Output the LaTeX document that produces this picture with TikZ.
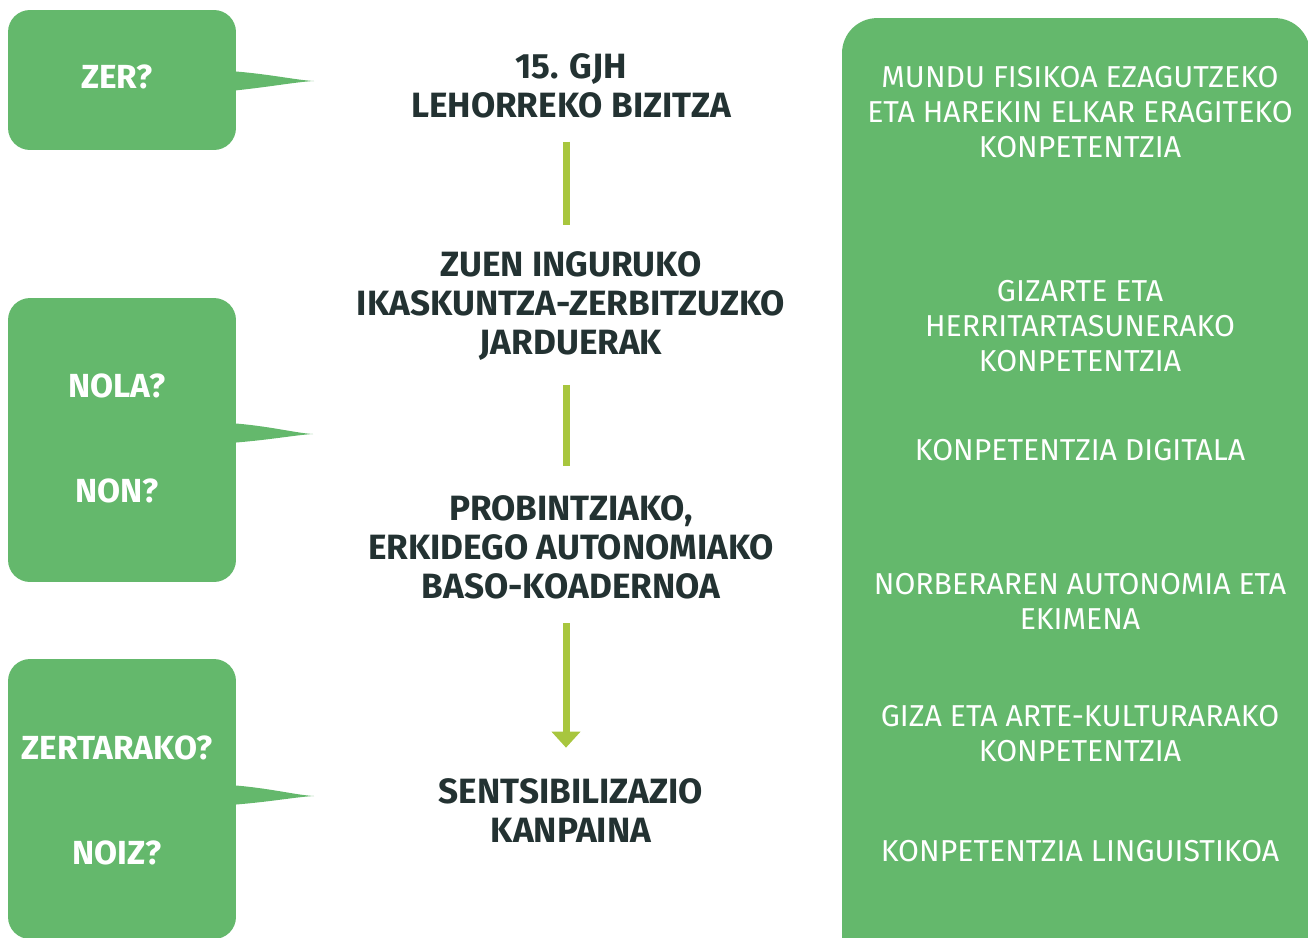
\documentclass[tikz,border=0pt]{standalone}
\usepackage{fontspec}
\setmainfont{Fira Sans}
\usetikzlibrary{positioning,arrows.meta}
\definecolor{boxgreen}{RGB}{100,184,108}
\definecolor{linegreen}{RGB}{168,198,62}
\definecolor{darktext}{RGB}{35,50,50}

\begin{document}
\begin{tikzpicture}[x=0.02cm,y=-0.02cm,
		question/.style={fill=boxgreen, rounded corners=0.44cm, minimum width=4.56cm},
		qlabel/.style={text=white, font=\bfseries\fontsize{19}{22}\selectfont},
		stage/.style={text=darktext, align=center, inner sep=0pt, font=\bfseries\fontsize{20}{22.2}\selectfont},
		skill/.style={text=white, align=center, inner sep=0pt, font=\fontsize{17.2}{19.9}\selectfont},
		link/.style={draw=linegreen, line width=0.14cm}]
		\clip (0,0) rectangle (1308,937);

		% question boxes on the left
		\node (zerbox) [question, minimum height=2.8cm] at (122,80) {};
		\node (nolabox) [question, minimum height=5.68cm] at (122,440) {};
		\node (noizbox) [question, minimum height=5.6cm] at (122,799) {};
		\fill[boxgreen] (230,71) .. controls (270,74) and (295,80) .. (314,81) .. controls (295,82) and (270,87) .. (230,91) -- cycle;
		\fill[boxgreen] (230,423) .. controls (270,426) and (295,433) .. (313,434) .. controls (295,435) and (270,440) .. (230,443) -- cycle;
		\fill[boxgreen] (230,785) .. controls (270,788) and (295,795) .. (314,796) .. controls (295,797) and (270,802) .. (230,805) -- cycle;

		\node (zer) [qlabel] at (117,77) {ZER?};
		\node (nola) [qlabel] at (117,386) {NOLA?};
		\node (non) [qlabel] at (117,491) {NON?};
		\node (zertarako) [qlabel] at (117,748) {ZERTARAKO?};
		\node (noiz) [qlabel] at (117,853) {NOIZ?};

		% steps in the middle
		\node (gjh) [stage] at (571,86) {15. GJH\\LEHORREKO BIZITZA};
		\node (jarduerak) [stage] at (571,306) {ZUEN INGURUKO\\IKASKUNTZA-ZERBITZUZKO\\JARDUERAK};
		\node (koadernoa) [stage] at (571,547) {PROBINTZIAKO,\\ERKIDEGO AUTONOMIAKO\\BASO-KOADERNOA};
		\node (kanpaina) [stage] at (571,811) {SENTSIBILIZAZIO\\KANPAINA};

		\draw[link, shorten <=0.46cm, shorten >=0.52cm] ([xshift=-0.1cm]gjh.south) -- ([xshift=-0.1cm]jarduerak.north);
		\draw[link, shorten <=0.48cm, shorten >=0.58cm] ([xshift=-0.1cm]jarduerak.south) -- ([xshift=-0.1cm]koadernoa.north);
		\draw[link, -{Triangle[width=0.56cm,length=0.32cm]}, shorten <=0.48cm, shorten >=0.62cm] ([xshift=-0.1cm]koadernoa.south) -- ([xshift=-0.1cm]kanpaina.north);

		% competences on the right
		\node (panel) [fill=boxgreen, rounded corners=0.7cm, minimum width=9.36cm, minimum height=19.24cm] at (1076,499) {};
		\node (mundua) [skill] at (1080,112) {MUNDU FISIKOA EZAGUTZEKO\\ETA HAREKIN ELKAR ERAGITEKO\\KONPETENTZIA};
		\node (gizartea) [skill] at (1080,326) {GIZARTE ETA\\HERRITARTASUNERAKO\\KONPETENTZIA};
		\node (digitala) [skill] at (1080,450) {KONPETENTZIA DIGITALA};
		\node (autonomia) [skill] at (1080,601) {NORBERAREN AUTONOMIA ETA\\EKIMENA};
		\node (kultura) [skill] at (1080,734) {GIZA ETA ARTE-KULTURARAKO\\KONPETENTZIA};
		\node (linguistikoa) [skill] at (1080,851) {KONPETENTZIA LINGUISTIKOA};

	\end{tikzpicture}
\end{document}
